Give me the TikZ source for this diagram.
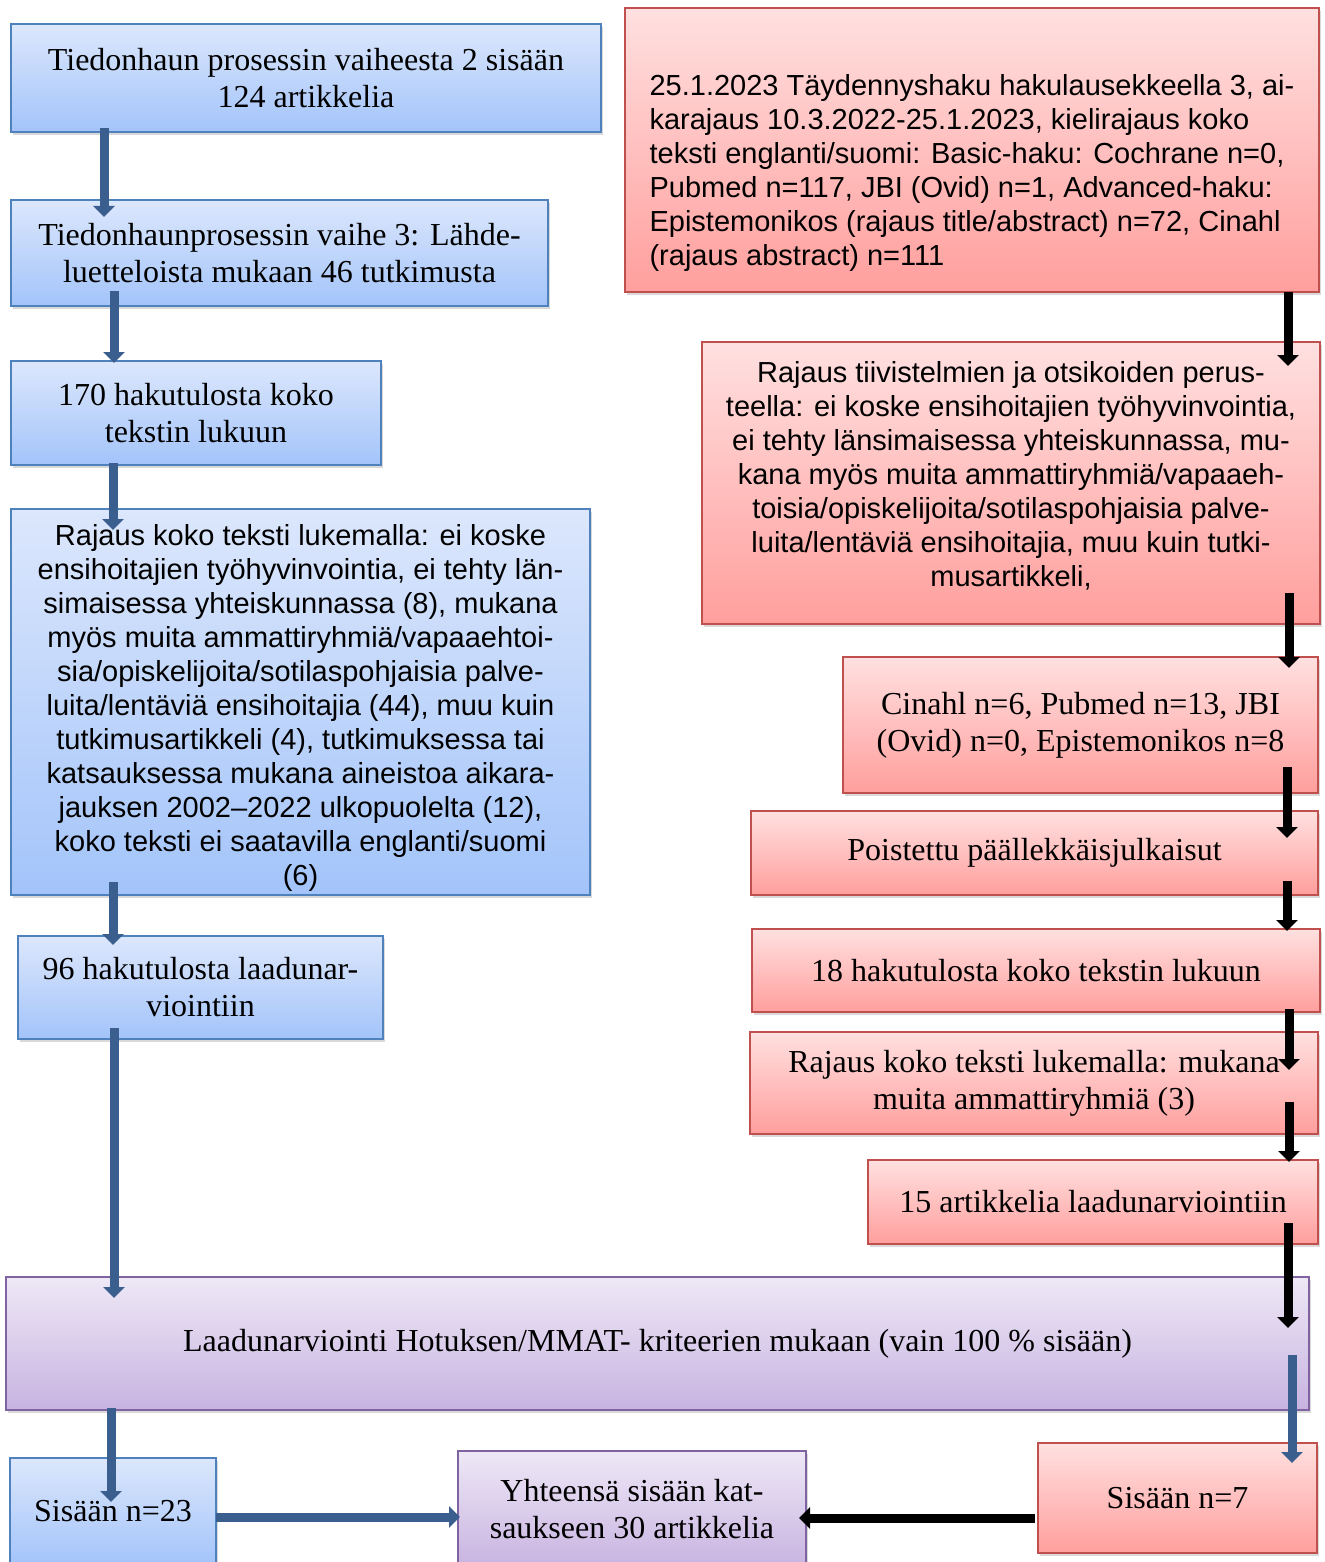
\documentclass[tikz,border=0pt]{standalone}
\usepackage{fontspec}
\setmainfont{Liberation Serif}
\setsansfont{Liberation Sans}
\usepackage{tikz}
\usetikzlibrary{positioning, arrows.meta, shadows, calc}
\definecolor{boxblue}{HTML}{4F81BD}
\definecolor{bluetop}{HTML}{DCE7FC}
\definecolor{bluebottom}{HTML}{A3C4FA}
\definecolor{boxred}{HTML}{C0504D}
\definecolor{redtop}{HTML}{FFE0E0}
\definecolor{redbottom}{HTML}{FF9F9D}
\definecolor{boxpurple}{HTML}{8064A2}
\definecolor{purpletop}{HTML}{EEE8F6}
\definecolor{purplebottom}{HTML}{C8B3E1}
\definecolor{arrowblue}{HTML}{3A5F8F}
\tikzset{x=1pt, y=-1pt,
	flowbox/.style={line width=1.5pt, outer sep=0pt, align=center, inner sep=4pt, drop shadow={shadow xshift=2pt, shadow yshift=-3pt, opacity=0.3}, font=\fontsize{32}{37}\selectfont},
	bluebox/.style={flowbox, draw=boxblue, top color=bluetop, bottom color=bluebottom},
	redbox/.style={flowbox, draw=boxred, top color=redtop, bottom color=redbottom},
	purplebox/.style={flowbox, draw=boxpurple, top color=purpletop, bottom color=purplebottom},
	sanstext/.style={font=\sffamily\fontsize{29}{34}\selectfont},
	bluearrow/.style={line width=9pt, color=arrowblue, -{Triangle[width=21pt, length=11pt]}},
	blackarrow/.style={line width=9pt, color=black, -{Triangle[width=21pt, length=11pt]}}}
\begin{document}
\begin{tikzpicture}
	\useasboundingbox (0,0) rectangle (1324,1562);
	\node[bluebox, anchor=north west, minimum width=590pt, minimum height=108pt] (b1) at (11,24) {Tiedonhaun prosessin vaiheesta 2 sisään\\124 artikkelia};
	\node[bluebox, below=68pt of b1.south west, anchor=north west, minimum width=537pt, minimum height=106pt] (b2) {Tiedonhaunprosessin vaihe 3: Lähde-\\luetteloista mukaan 46 tutkimusta};
	\node[bluebox, below=55pt of b2.south west, anchor=north west, minimum width=370pt, minimum height=104pt] (b3) {170 hakutulosta koko\\tekstin lukuun};
	\node[bluebox, sanstext, below=44pt of b3.south west, anchor=north west, minimum width=579pt, minimum height=386pt] (b4) {\mbox{}\\[-2pt]Rajaus koko teksti lukemalla: ei koske\\ensihoitajien työhyvinvointia, ei tehty län-\\simaisessa yhteiskunnassa (8), mukana\\myös muita ammattiryhmiä/vapaaehtoi-\\sia/opiskelijoita/sotilaspohjaisia palve-\\luita/lentäviä ensihoitajia (44), muu kuin\\tutkimusartikkeli (4), tutkimuksessa tai\\katsauksessa mukana aineistoa aikara-\\jauksen 2002–2022 ulkopuolelta (12),\\koko teksti ei saatavilla englanti/suomi\\(6)};
	\node[bluebox, below=41pt of b4.south west, anchor=north west, xshift=7pt, minimum width=365pt, minimum height=103pt] (b5) {96 hakutulosta laadunar-\\viointiin};
	\node[purplebox, below=238pt of b5.south west, anchor=north west, xshift=-12pt, minimum width=1303pt, minimum height=133pt] (p1) {Laadunarviointi Hotuksen/MMAT- kriteerien mukaan (vain 100 \% sisään)};
	\node[bluebox, below=48pt of p1.south west, anchor=north west, xshift=4pt, minimum width=206pt, minimum height=106pt] (s23) {Sisään n=23};
	\node[purplebox, right=242pt of s23.north east, anchor=north west, yshift=7pt, minimum width=348pt, minimum height=116pt] (y30) {Yhteensä sisään kat-\\saukseen 30 artikkelia};
	\node[redbox, below=33pt of p1.south east, anchor=north east, xshift=8pt, minimum width=279pt, minimum height=110pt] (s7) {Sisään n=7};

	\node[redbox, sanstext, align=left, anchor=north east, minimum width=694pt, minimum height=284pt] (r1) at (1319,8) {\mbox{}\\[34pt]25.1.2023 Täydennyshaku hakulausekkeella 3, ai-\\karajaus 10.3.2022-25.1.2023, kielirajaus koko\\teksti englanti/suomi: Basic-haku: Cochrane n=0,\\Pubmed n=117, JBI (Ovid) n=1, Advanced-haku:\\Epistemonikos (rajaus title/abstract) n=72, Cinahl\\(rajaus abstract) n=111};
	\node[redbox, sanstext, below=50pt of r1.south east, anchor=north east, xshift=1pt, minimum width=618pt, minimum height=282pt] (r2) {Rajaus tiivistelmien ja otsikoiden perus-\\teella: ei koske ensihoitajien työhyvinvointia,\\ei tehty länsimaisessa yhteiskunnassa, mu-\\kana myös muita ammattiryhmiä/vapaaeh-\\toisia/opiskelijoita/sotilaspohjaisia palve-\\luita/lentäviä ensihoitajia, muu kuin tutki-\\musartikkeli,\\[-16pt]\mbox{}};
	\node[redbox, below=33pt of r2.south east, anchor=north east, xshift=-2pt, minimum width=475pt, minimum height=136pt] (r3) {Cinahl n=6, Pubmed n=13, JBI\\(Ovid) n=0, Epistemonikos n=8};
	\node[redbox, below=18pt of r3.south east, anchor=north east, minimum width=567pt, minimum height=84pt] (r4) {Poistettu päällekkäisjulkaisut};
	\node[redbox, below=34pt of r4.south east, anchor=north east, xshift=2pt, minimum width=568pt, minimum height=83pt] (r5) {18 hakutulosta koko tekstin lukuun};
	\node[redbox, below=20pt of r5.south east, anchor=north east, xshift=-2pt, minimum width=568pt, minimum height=102pt] (r6) {Rajaus koko teksti lukemalla: mukana\\muita ammattiryhmiä (3)};
	\node[redbox, below=26pt of r6.south east, anchor=north east, minimum width=450pt, minimum height=84pt] (r7) {15 artikkelia laadunarviointiin};

	\draw[bluearrow] ([xshift=93pt, yshift=4pt]b1.south west) -- ([xshift=93pt, yshift=-17pt]b2.north west);
	\draw[bluearrow] ([xshift=103pt, yshift=15pt]b2.south west) -- ([xshift=103pt, yshift=-2pt]b3.north west);
	\draw[bluearrow] ([xshift=102pt, yshift=2pt]b3.south west) -- ([xshift=102pt, yshift=-21pt]b4.north west);
	\draw[bluearrow] ([xshift=102pt, yshift=13pt]b4.south west) -- ([xshift=95pt, yshift=-9pt]b5.north west);
	\draw[bluearrow] ([xshift=96pt, yshift=11pt]b5.south west) -- ([xshift=108pt, yshift=-21pt]p1.north west);
	\draw[bluearrow] ([xshift=105pt, yshift=2pt]p1.south west) -- ([xshift=101pt, yshift=-44pt]s23.north west);
	\draw[bluearrow] ([yshift=-6pt]s23.east) -- ($([yshift=-6pt]s23.east -| y30.west)+(2,0)$);
	\draw[bluearrow] ([xshift=-17pt, yshift=-78pt]p1.north east) -- ([xshift=-25pt, yshift=-20pt]s7.north east);

	\draw[blackarrow] ([xshift=-31pt]r1.south east) -- ([xshift=-32pt, yshift=-24pt]r2.north east);
	\draw[blackarrow] ([xshift=-31pt, yshift=31pt]r2.south east) -- ([xshift=-29pt, yshift=-11pt]r3.north east);
	\draw[blackarrow] ([xshift=-31pt, yshift=26pt]r3.south east) -- ([xshift=-31pt, yshift=-27pt]r4.north east);
	\draw[blackarrow] ([xshift=-31pt, yshift=14pt]r4.south east) -- ([xshift=-33pt, yshift=-2pt]r5.north east);
	\draw[blackarrow] ([xshift=-31pt, yshift=3pt]r5.south east) -- ([xshift=-29pt, yshift=-38pt]r6.north east);
	\draw[blackarrow] ([xshift=-29pt, yshift=32pt]r6.south east) -- ([xshift=-29pt, yshift=-2pt]r7.north east);
	\draw[blackarrow] ([xshift=-30pt, yshift=21pt]r7.south east) -- ([xshift=-21pt, yshift=-51pt]p1.north east);
	\draw[blackarrow] ([xshift=-3pt, yshift=-20pt]s7.west) -- ($([yshift=-20pt]s7.west -| y30.east)+(-7,0)$);
\end{tikzpicture}
\end{document}
